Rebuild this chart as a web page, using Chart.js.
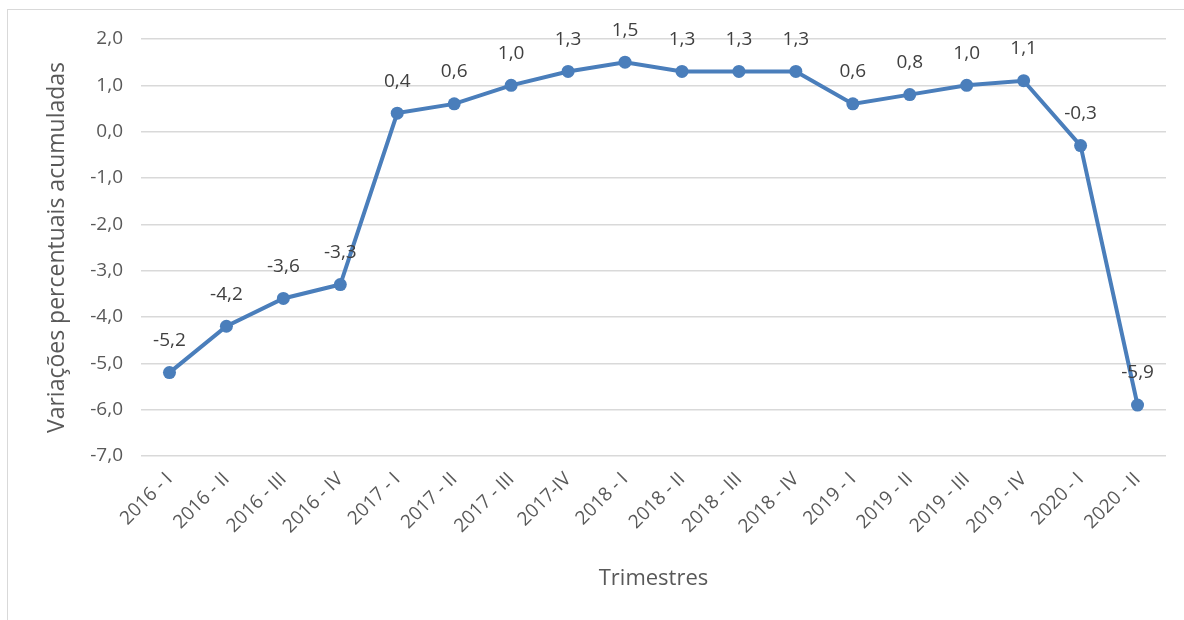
<!DOCTYPE html>
<html>
<head>
<meta charset="utf-8">
<script src="https://cdn.jsdelivr.net/npm/chart.js@4/dist/chart.umd.min.js"></script>
<style>
  html, body { margin: 0; padding: 0; background: #fff; }
  #wrap { position: relative; width: 1184px; height: 620px; }
  #frame { position: absolute; left: 7px; top: 9px; width: 1190px; height: 640px; border: 1px solid #d9d9d9; box-sizing: border-box; }
  canvas { position: absolute; left: 0; top: 0; }
</style>
</head>
<body>
<div id="wrap">
  <div id="frame"></div>
  <canvas id="chart" width="1184" height="620"></canvas>
</div>
<script>
// Trimestres e variações acumuladas
const quarters = [
  '2016 - I', '2016 - II', '2016 - III', '2016 - IV',
  '2017 - I', '2017 - II', '2017 - III', '2017-IV',
  '2018 - I', '2018 - II', '2018 - III', '2018 - IV',
  '2019 - I', '2019 - II', '2019 - III', '2019 - IV',
  '2020 - I', '2020 - II'
];
const variations = [-5.2, -4.2, -3.6, -3.3, 0.4, 0.6, 1.0, 1.3, 1.5, 1.3, 1.3, 1.3, 0.6, 0.8, 1.0, 1.1, -0.3, -5.9];
const yMin = -7;
const yMax = 2;

const fmt = (v) => v.toFixed(1).replace('.', ',');
const FONT = '"Open Sans", "Noto Sans", sans-serif';

// Draw value labels above each point
const valueLabels = {
  id: 'valueLabels',
  afterDatasetsDraw(chart) {
    const ctx = chart.ctx;
    const meta = chart.getDatasetMeta(0);
    ctx.save();
    ctx.font = '19px ' + FONT;
    ctx.fillStyle = '#404040';
    ctx.textAlign = 'center';
    ctx.textBaseline = 'middle';
    meta.data.forEach((pt, i) => {
      ctx.fillText(fmt(variations[i]), pt.x, pt.y - 32);
    });
    ctx.restore();
  }
};

const ctx = document.getElementById('chart').getContext('2d');
new Chart(ctx, {
  type: 'line',
  data: {
    labels: quarters,
    datasets: [{
      data: variations,
      borderColor: '#4a7ebb',
      backgroundColor: '#4a7ebb',
      borderWidth: 4,
      pointRadius: 6.5,
      pointBorderWidth: 0,
      tension: 0,
    }],
  },
  options: {
    responsive: false,
    animation: false,
    layout: { padding: { left: 40, right: 18, top: 39, bottom: 19 } },
    plugins: { legend: { display: false }, tooltip: { enabled: false } },
    scales: {
      x: {
        offset: true,
        afterFit: (s) => { s.height = 145; },
        grid: { display: false },
        border: { display: false },
        ticks: {
          color: '#595959',
          font: { family: FONT, size: 19 },
          minRotation: 45,
          maxRotation: 45,
          autoSkip: false,
          padding: 4,
        },
        title: {
          display: true,
          text: 'Trimestres',
          color: '#595959',
          font: { family: FONT, size: 22 },
          padding: { top: 4, bottom: 9 },
        },
      },
      y: {
        min: yMin,
        max: yMax,
        afterFit: (s) => { s.width = 101; },
        grid: { color: '#d9d9d9', lineWidth: 1.5, drawTicks: false },
        border: { display: false },
        ticks: {
          stepSize: 1,
          color: '#595959',
          font: { family: FONT, size: 19 },
          padding: 18,
          callback: (v) => fmt(v),
        },
        title: {
          display: true,
          text: 'Variações percentuais acumuladas',
          color: '#595959',
          font: { family: FONT, size: 23 },
        },
      },
    },
  },
  plugins: [valueLabels],
});
</script>
</body>
</html>
